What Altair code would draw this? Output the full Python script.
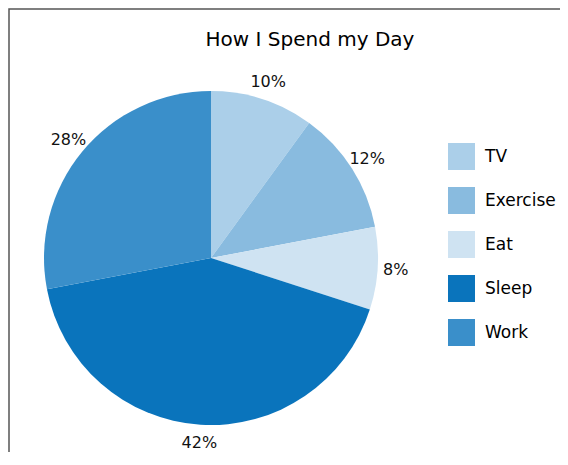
import altair as alt
import pandas as pd

categories = ["TV", "Exercise", "Eat", "Sleep", "Work"]
values = [10, 12, 8, 42, 28]
labels = ["10%", "12%", "8%", "42%", "28%"]
colors = ["#abcfe9", "#89bbdf", "#cfe3f2", "#0a74bc", "#3a8fca"]

df = pd.DataFrame({
    "activity": categories,
    "share": values,
    "label": labels,
    "idx": list(range(len(categories))),
})

FONT = "DejaVu Sans"

base = alt.Chart(df).encode(
    theta=alt.Theta("share:Q", stack=True),
    order=alt.Order("idx:Q"),
)

pie = base.mark_arc(radius=167, stroke=None).encode(
    x=alt.value(203),
    y=alt.value(250),
    color=alt.Color(
        "activity:N",
        scale=alt.Scale(domain=categories, range=colors),
        sort=categories,
        legend=alt.Legend(
            title=None,
            orient="none",
            legendX=440,
            legendY=135,
            symbolType="square",
            symbolSize=729,
            symbolStrokeWidth=0,
            symbolOpacity=1,
            rowPadding=17,
            labelOffset=10,
            labelFontSize=17,
            labelFont=FONT,
            labelColor="#000000",
            padding=0,
        ),
    ),
)

text = base.mark_text(radius=185, fontSize=16, font=FONT, color="#111111").encode(
    x=alt.value(203),
    y=alt.value(250),
    text="label:N",
)

title = alt.Chart(pd.DataFrame({"t": ["How I Spend my Day"]})).mark_text(
    fontSize=20, font=FONT, color="#000000"
).encode(
    x=alt.value(302),
    y=alt.value(32),
    text="t:N",
)

frame = alt.Chart(pd.DataFrame({"f": [0]})).mark_rect(
    fill=None, stroke="#555555", strokeWidth=1.5
).encode(
    x=alt.value(1), x2=alt.value(900), y=alt.value(1), y2=alt.value(900)
)

chart = alt.layer(frame, pie, text, title).properties(
    width=552, height=444, padding=0,
    autosize=alt.AutoSizeParams(type="none"),
).configure_view(
    stroke=None, clip=False
)

chart.save("out.html", embed_options={"renderer": "svg", "actions": False})
